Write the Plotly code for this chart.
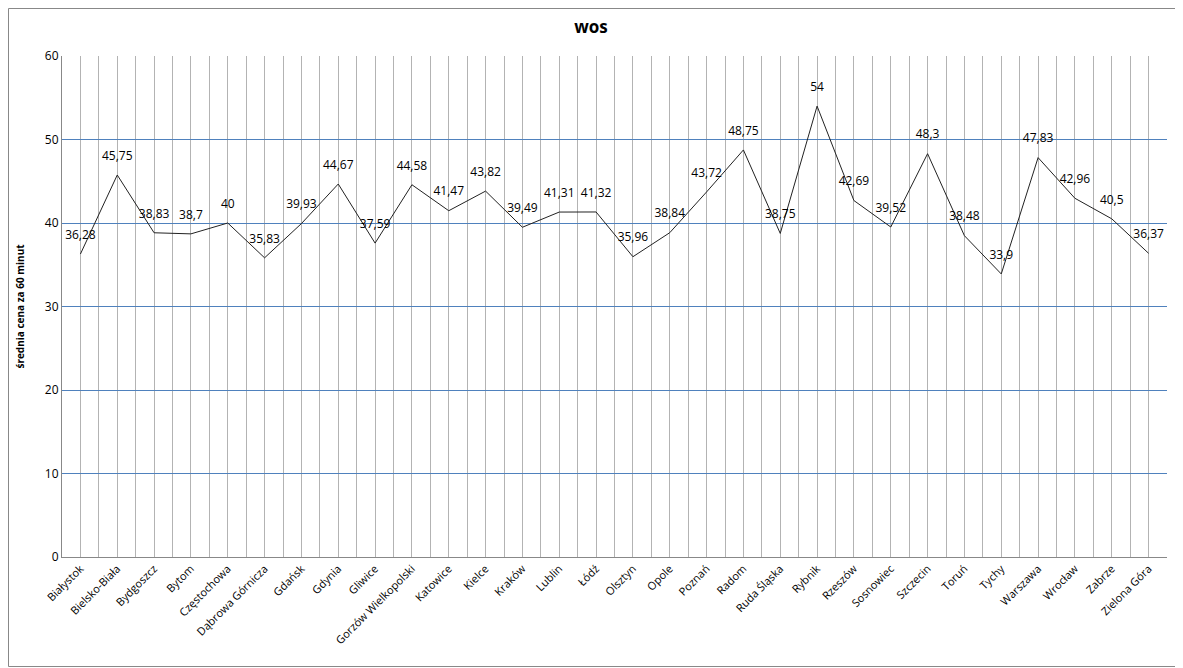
import plotly.graph_objects as go

cities = ["Białystok", "Bielsko-Biała", "Bydgoszcz", "Bytom", "Częstochowa", "Dąbrowa Górnicza",
          "Gdańsk", "Gdynia", "Gliwice", "Gorzów Wielkopolski", "Katowice", "Kielce", "Kraków",
          "Lublin", "Łódź", "Olsztyn", "Opole", "Poznań", "Radom", "Ruda Śląska", "Rybnik",
          "Rzeszów", "Sosnowiec", "Szczecin", "Toruń", "Tychy", "Warszawa", "Wrocław", "Zabrze",
          "Zielona Góra"]
prices = [36.28, 45.75, 38.83, 38.7, 40, 35.83, 39.93, 44.67, 37.59, 44.58, 41.47, 43.82, 39.49,
          41.31, 41.32, 35.96, 38.84, 43.72, 48.75, 38.75, 54, 42.69, 39.52, 48.3, 38.48, 33.9,
          47.83, 42.96, 40.5, 36.37]
y_ticks = [0, 10, 20, 30, 40, 50, 60]

# page body has an 8px margin; compensate so the plot lands where the reference has it
OFF = 8
W, H = 1183 - OFF, 668 - OFF
L, R, T, B = 62 - OFF, 16, 56 - OFF, 111
pw, ph = W - L - R, H - T - B

idx = list(range(len(cities)))
labels = [("%g" % v).replace(".", ",") for v in prices]

fig = go.Figure()
fig.add_trace(go.Scatter(
    x=idx, y=prices, mode="lines+markers+text", text=labels, textposition="top center",
    textfont=dict(family="Open Sans", size=12, color="#000"),
    marker=dict(size=18, color="rgba(0,0,0,0)"),
    line=dict(color="#222", width=1), showlegend=False, cliponaxis=False))

fig.update_layout(
    width=W, height=H, margin=dict(l=L, r=R, t=T, b=B),
    paper_bgcolor="white", plot_bgcolor="white",
    title=dict(text="<b>wos</b>", x=(591 - OFF - L) / pw, xref="paper", xanchor="center",
               y=1 - (27 - OFF) / H, yanchor="middle",
               font=dict(family="Open Sans", size=17, color="#000")),
    font=dict(family="Open Sans", size=11, color="#000"),
    xaxis=dict(range=[-0.5, len(cities) - 0.5], tickvals=idx, ticktext=cities, tickangle=-45,
               showgrid=True, gridcolor="#b3b3b3", gridwidth=1,
               minor=dict(tick0=-0.5, dtick=1, showgrid=True, gridcolor="#b3b3b3", gridwidth=1),
               showline=True, linecolor="#888", linewidth=1, ticks="", zeroline=False,
               tickfont=dict(family="Open Sans", size=11)),
    yaxis=dict(range=[0, 60], tickvals=y_ticks, showgrid=True, gridcolor="#4f81bd", gridwidth=1,
               showline=True, linecolor="#888", linewidth=1, zeroline=False, ticks="",
               title=dict(text="<b>średnia cena za 60 minut</b>", standoff=18,
                          font=dict(family="Open Sans", size=10)),
               tickfont=dict(family="Open Sans", size=12)),
    shapes=[dict(type="rect", xref="paper", yref="paper",
                 x0=-(L - 0.5) / pw, x1=1 + (R - 1.5) / pw,
                 y0=-(B - 1.5) / ph, y1=1 + (T - 0.5) / ph,
                 line=dict(color="#888", width=1), fillcolor="rgba(0,0,0,0)", layer="below")],
)

fig.write_html("out.html")
